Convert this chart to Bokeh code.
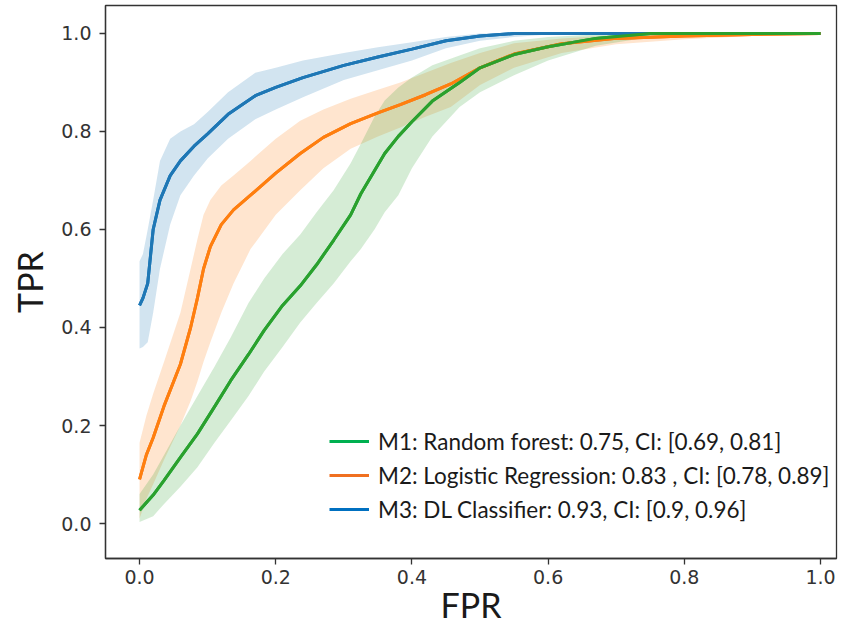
from bokeh.plotting import figure
from bokeh.models import Range1d, FixedTicker, PrintfTickFormatter, Legend, LegendItem
from bokeh.embed import file_html
from bokeh.resources import INLINE

# ---- data ----
m3_fpr = [0, 0.005, 0.012, 0.02, 0.03, 0.045, 0.06, 0.08, 0.1, 0.13, 0.17, 0.2, 0.24, 0.3, 0.35, 0.4, 0.45, 0.5, 0.55, 0.6, 0.7, 0.8, 0.9, 1.0]
m3_tpr = [0.445, 0.46, 0.49, 0.6, 0.66, 0.71, 0.74, 0.77, 0.795, 0.835, 0.873, 0.89, 0.91, 0.935, 0.952, 0.968, 0.985, 0.995, 1.0, 1.0, 1.0, 1.0, 1.0, 1.0]
m3_hi = [0.535, 0.55, 0.6, 0.66, 0.74, 0.785, 0.8, 0.815, 0.84, 0.88, 0.92, 0.93, 0.945, 0.96, 0.972, 0.982, 0.993, 1.0, 1.0, 1.0, 1.0, 1.0, 1.0, 1.0]
m3_lo = [0.357, 0.36, 0.37, 0.43, 0.52, 0.61, 0.67, 0.71, 0.745, 0.785, 0.825, 0.845, 0.87, 0.905, 0.925, 0.945, 0.97, 0.985, 0.993, 0.998, 1.0, 1.0, 1.0, 1.0]

m2_fpr = [0, 0.01, 0.02, 0.036, 0.06, 0.075, 0.085, 0.094, 0.104, 0.12, 0.138, 0.163, 0.2, 0.236, 0.27, 0.31, 0.35, 0.383, 0.42, 0.457, 0.5, 0.55, 0.62, 0.7, 0.8, 0.9, 1.0]
m2_tpr = [0.09, 0.14, 0.175, 0.24, 0.325, 0.40, 0.46, 0.52, 0.565, 0.61, 0.64, 0.67, 0.715, 0.755, 0.788, 0.816, 0.838, 0.855, 0.875, 0.897, 0.93, 0.958, 0.979, 0.99, 0.995, 0.998, 1.0]
m2_hi = [0.165, 0.22, 0.265, 0.33, 0.43, 0.52, 0.58, 0.63, 0.66, 0.69, 0.71, 0.74, 0.785, 0.822, 0.845, 0.867, 0.885, 0.9, 0.92, 0.94, 0.96, 0.98, 0.99, 0.997, 1.0, 1.0, 1.0]
m2_lo = [0.01, 0.05, 0.08, 0.13, 0.2, 0.25, 0.29, 0.33, 0.37, 0.43, 0.49, 0.56, 0.63, 0.68, 0.725, 0.765, 0.79, 0.808, 0.83, 0.85, 0.895, 0.93, 0.96, 0.978, 0.988, 0.995, 1.0]

m1_fpr = [0, 0.02, 0.036, 0.06, 0.085, 0.11, 0.134, 0.16, 0.183, 0.21, 0.236, 0.26, 0.285, 0.31, 0.325, 0.345, 0.36, 0.38, 0.4, 0.43, 0.47, 0.5, 0.55, 0.6, 0.67, 0.75, 0.85, 1.0]
m1_tpr = [0.027, 0.058, 0.088, 0.135, 0.183, 0.238, 0.292, 0.345, 0.394, 0.445, 0.485, 0.528, 0.578, 0.63, 0.673, 0.72, 0.755, 0.79, 0.82, 0.862, 0.9, 0.93, 0.957, 0.973, 0.99, 1.0, 1.0, 1.0]
m1_hi = [0.06, 0.10, 0.14, 0.2, 0.26, 0.32, 0.38, 0.45, 0.5, 0.55, 0.59, 0.635, 0.68, 0.735, 0.775, 0.83, 0.863, 0.89, 0.91, 0.935, 0.955, 0.97, 0.985, 0.993, 0.998, 1.0, 1.0, 1.0]
m1_lo = [0.003, 0.015, 0.04, 0.075, 0.115, 0.165, 0.21, 0.26, 0.31, 0.36, 0.41, 0.45, 0.49, 0.535, 0.56, 0.6, 0.635, 0.67, 0.725, 0.79, 0.85, 0.88, 0.915, 0.945, 0.975, 0.993, 0.998, 1.0]

labels = ["M1: Random forest: 0.75, CI: [0.69, 0.81]",
          "M2: Logistic Regression: 0.83 , CI: [0.78, 0.89]",
          "M3: DL Classifier: 0.93, CI: [0.9, 0.96]"]
ticks = [0.0, 0.2, 0.4, 0.6, 0.8, 1.0]

C_BLUE, C_ORANGE, C_GREEN = "#1f77b4", "#ff7f0e", "#2ca02c"
L_GREEN, L_ORANGE, L_BLUE = "#00b050", "#f07020", "#0070c0"

p = figure(width=838, height=630, output_backend="svg", toolbar_location=None,
           x_range=Range1d(-0.05, 1.0235), y_range=Range1d(-0.0714, 1.0571),
           min_border_left=105, min_border_right=2, min_border_top=5, min_border_bottom=72)
p.background_fill_color = "white"
p.border_fill_color = "white"
p.outline_line_color = "#333333"
p.outline_line_width = 1.3
p.xgrid.visible = False
p.ygrid.visible = False

for xs, lo, hi, c in [(m3_fpr, m3_lo, m3_hi, C_BLUE), (m2_fpr, m2_lo, m2_hi, C_ORANGE), (m1_fpr, m1_lo, m1_hi, C_GREEN)]:
    p.varea(x=xs, y1=lo, y2=hi, fill_color=c, fill_alpha=0.2)

# legend-colour copies, hidden beneath the main curves
lg3 = p.line(m3_fpr, m3_tpr, line_color=L_BLUE, line_width=3)
lg2 = p.line(m2_fpr, m2_tpr, line_color=L_ORANGE, line_width=3)
lg1 = p.line(m1_fpr, m1_tpr, line_color=L_GREEN, line_width=3)

p.line(m3_fpr, m3_tpr, line_color=C_BLUE, line_width=3)
p.line(m2_fpr, m2_tpr, line_color=C_ORANGE, line_width=3)
p.line(m1_fpr, m1_tpr, line_color=C_GREEN, line_width=3)

legend = Legend(items=[LegendItem(label=labels[0], renderers=[lg1]),
                       LegendItem(label=labels[1], renderers=[lg2]),
                       LegendItem(label=labels[2], renderers=[lg3])],
                location=(224, 34), padding=0, margin=0, spacing=4,
                glyph_width=40, glyph_height=30, label_height=30, label_standoff=9,
                label_text_font="Lato", label_text_font_size="22.5px", label_text_color="#1a1a1a",
                background_fill_alpha=0, border_line_alpha=0)
p.add_layout(legend, "center")

for ax in (p.xaxis[0], p.yaxis[0]):
    ax.ticker = FixedTicker(ticks=ticks)
    ax.formatter = PrintfTickFormatter(format="%.1f")
    ax.minor_tick_line_color = None
    ax.major_tick_out = 6
    ax.major_tick_in = 0
    ax.major_tick_line_color = "#333333"
    ax.major_tick_line_width = 1.3
    ax.axis_line_color = "#333333"
    ax.axis_line_width = 1.3
    ax.major_label_text_font = "DejaVu Sans"
    ax.major_label_text_font_size = "19px"
    ax.major_label_text_color = "#333333"
    ax.axis_label_text_font = "Lato"
    ax.axis_label_text_font_size = "34px"
    ax.axis_label_text_font_style = "normal"
    ax.axis_label_text_color = "#1a1a1a"

p.xaxis.axis_label = "FPR"
p.yaxis.axis_label = "TPR"
p.xaxis.major_label_standoff = 5
p.yaxis.major_label_standoff = 8
p.xaxis.axis_label_standoff = -3
p.yaxis.axis_label_standoff = 8

open("out.html", "w").write(file_html(p, INLINE))
